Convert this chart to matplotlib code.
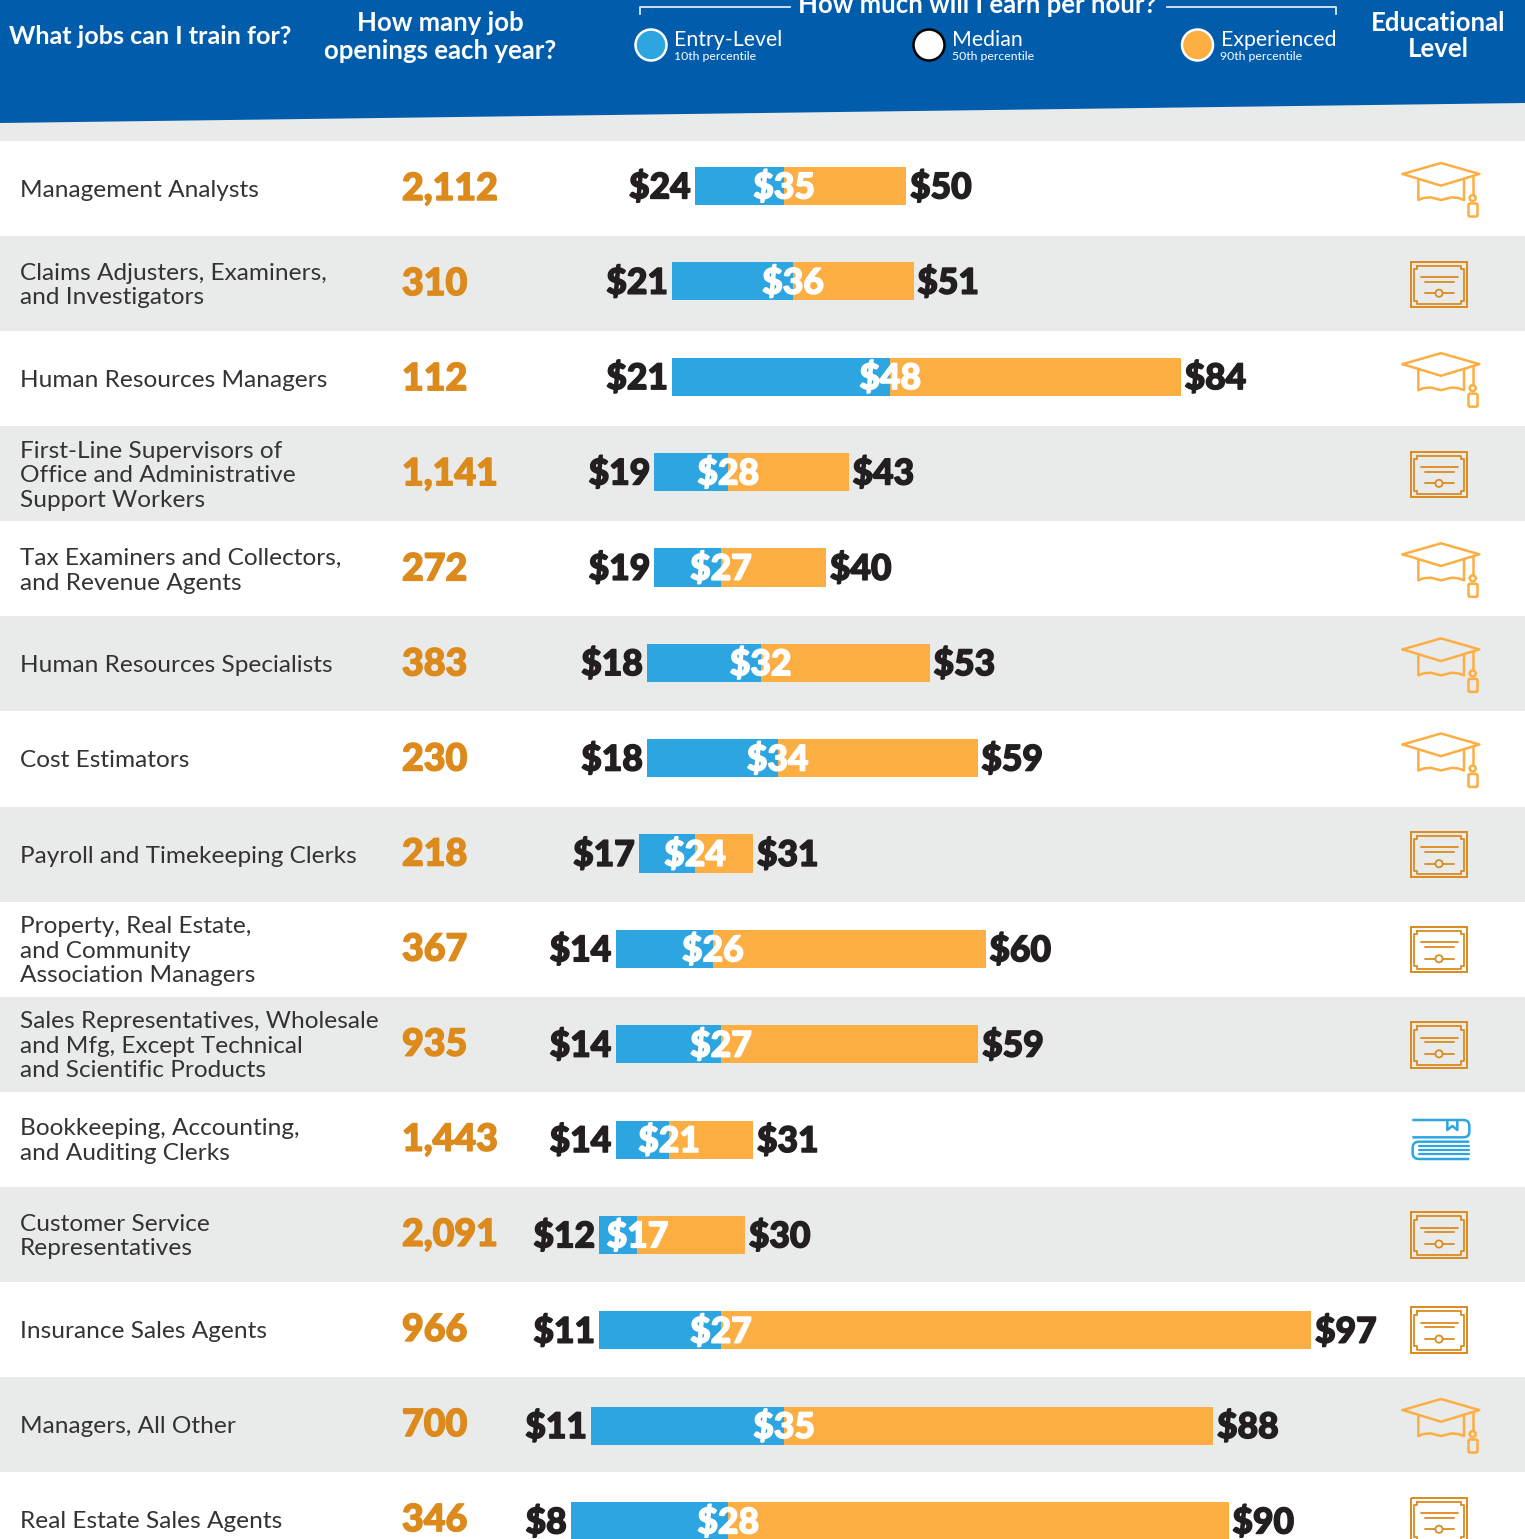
import matplotlib
matplotlib.use("Agg")
import matplotlib.pyplot as plt
import matplotlib.patheffects as pe
from matplotlib.patches import Circle, Polygon, Rectangle, FancyBboxPatch
from matplotlib.path import Path
from matplotlib.patches import PathPatch

W, H = 1525, 1539
ROW_TOP = 141
ROW_H = 95.08
BAR_FIRST = 186
BAR_STEP = 95.36

BLUE_HEAD = "#015DAC"
BLUE = "#2CA5E0"
ORANGE = "#FDAE42"
DARK_ORANGE = "#DC8A1C"
GREY = "#E9EBEA"
FONT = "Lato"

jobs = [
    "Management Analysts",
    "Claims Adjusters, Examiners,\nand Investigators",
    "Human Resources Managers",
    "First-Line Supervisors of\nOffice and Administrative\nSupport Workers",
    "Tax Examiners and Collectors,\nand Revenue Agents",
    "Human Resources Specialists",
    "Cost Estimators",
    "Payroll and Timekeeping Clerks",
    "Property, Real Estate,\nand Community\nAssociation Managers",
    "Sales Representatives, Wholesale\nand Mfg, Except Technical\nand Scientific Products",
    "Bookkeeping, Accounting,\nand Auditing Clerks",
    "Customer Service\nRepresentatives",
    "Insurance Sales Agents",
    "Managers, All Other",
    "Real Estate Sales Agents",
]
openings = ["2,112", "310", "112", "1,141", "272", "383", "230", "218",
            "367", "935", "1,443", "2,091", "966", "700", "346"]

# printed wages
low_labels = [24, 21, 21, 19, 19, 18, 18, 17, 14, 14, 14, 12, 11, 11, 8]
median_labels = [35, 36, 48, 28, 27, 32, 34, 24, 26, 27, 21, 17, 27, 35, 28]
high_labels = [50, 51, 84, 43, 40, 53, 59, 31, 60, 59, 31, 30, 97, 88, 90]

# bar extents, the bars do not always agree with the printed wage
low_wage = [23.7, 20.9, 20.9, 18.7, 18.7, 17.8, 17.8, 16.8, 13.9, 13.9, 13.9, 11.9, 11.9, 10.9, 8.4]
median_wage = [34.7, 35.8, 47.8, 27.8, 26.9, 31.8, 33.9, 23.7, 25.9, 26.9, 20.5, 16.6, 26.9, 34.7, 27.8]
high_wage = [49.8, 50.7, 83.7, 42.7, 39.9, 52.7, 58.6, 30.9, 59.6, 58.7, 30.9, 29.9, 99.8, 87.7, 89.6]

education = ["cap", "cert", "cap", "cert", "cap", "cap", "cap", "cert",
             "cert", "cert", "book", "cert", "cert", "cap", "cert"]

legend_names = ["Entry-Level", "Median", "Experienced"]
legend_subs = ["10th percentile", "50th percentile", "90th percentile"]


def heavy(color, width=1.1):
    return [pe.withStroke(linewidth=width, foreground=color)]


def icon_line(ax, pts, ox, oy, color, lw=2.0):
    ax.plot([ox + p[0] / 3 for p in pts], [oy + p[1] / 3 for p in pts],
            color=color, lw=lw, solid_joinstyle="round", solid_capstyle="round", zorder=5)


def draw_cap(ax, top):
    ox, oy = 1340, top - 141
    c = ORANGE
    icon_line(ax, [(188, 522), (303, 489), (418, 522), (303, 557), (188, 522)], ox, oy, c, 1.8)
    icon_line(ax, [(235, 540), (235, 600), (250, 594), (272, 592), (303, 600), (335, 592),
                   (355, 594), (372, 600), (372, 540)], ox, oy, c, 1.8)
    icon_line(ax, [(398, 530), (398, 585)], ox, oy, c, 1.8)
    ax.add_patch(Circle((ox + 398 / 3, oy + 594 / 3), 3.0, fill=False, ec=c, lw=1.8, zorder=5))
    ax.add_patch(FancyBboxPatch((ox + 390 / 3, oy + 615 / 3), 18 / 3, 30 / 3,
                                boxstyle="round,pad=1.5", fill=False, ec=c, lw=1.8, zorder=5))


def draw_cert(ax, top):
    ox, oy = 1340, top - 236.2
    c = DARK_ORANGE
    ax.add_patch(Rectangle((ox + 213 / 3, oy + 785 / 3), 169 / 3, 136 / 3, fill=False, ec=c, lw=1.4, zorder=5))
    icon_line(ax, [(232, 797), (362, 797), (362, 807), (372, 807), (372, 902), (362, 902), (362, 912),
                   (232, 912), (232, 902), (222, 902), (222, 807), (232, 807), (232, 797)], ox, oy, c, 1.3)
    icon_line(ax, [(242, 831), (354, 831)], ox, oy, c, 1.3)
    icon_line(ax, [(254, 845), (342, 845)], ox, oy, c, 1.3)
    icon_line(ax, [(254, 880), (285, 880)], ox, oy, c, 1.3)
    icon_line(ax, [(309, 880), (343, 880)], ox, oy, c, 1.3)
    ax.add_patch(Circle((ox + 297 / 3, oy + 880 / 3), 3.6, fill=False, ec=c, lw=1.3, zorder=5))


def draw_book(ax, top):
    ox, oy = 1380, top - 1091.8 + 1100
    c = BLUE
    verts = [(97, 60), (250, 60), (268, 60), (268, 78), (268, 95), (268, 112), (250, 112), (97, 112)]
    codes = [Path.MOVETO, Path.LINETO, Path.CURVE3, Path.CURVE3, Path.LINETO, Path.CURVE3, Path.CURVE3, Path.LINETO]
    ax.add_patch(PathPatch(Path([(ox + x / 3, oy + y / 3) for x, y in verts], codes), fill=False, ec=c, lw=1.8, zorder=5))
    icon_line(ax, [(202, 60), (202, 90), (217, 78), (232, 90), (232, 60)], ox, oy, c, 1.8)
    verts = [(268, 125), (118, 125), (98, 125), (98, 143), (98, 160), (98, 177), (118, 177), (268, 177)]
    ax.add_patch(PathPatch(Path([(ox + x / 3, oy + y / 3) for x, y in verts], codes), fill=False, ec=c, lw=1.8, zorder=5))
    for y in [138, 150, 163]:
        icon_line(ax, [(118, y), (268, y)], ox, oy, c, 1.6)


fig = plt.figure(figsize=(W / 100, H / 100), dpi=100, facecolor="white")

# layout axes in image pixels
ax = fig.add_axes([0, 0, 1, 1])
ax.set_xlim(0, W)
ax.set_ylim(H, 0)
ax.axis("off")

ax.add_patch(Rectangle((0, 100), W, ROW_TOP - 100, fc=GREY, ec="none", zorder=0))
ax.add_patch(Polygon([(0, 0), (W, 0), (W, 103), (0, 123)], fc=BLUE_HEAD, ec="none", zorder=1))

ax.text(9, 37, "What jobs can I train for?", color="white", fontsize=18.1, fontweight="bold",
        family=FONT, va="center", ha="left")
ax.text(440, 37, "How many job\nopenings each year?", color="white", fontsize=18.5, fontweight="bold",
        family=FONT, va="center", ha="center", linespacing=1.24)
ax.text(977, 5, "How much will I earn per hour?", color="white", fontsize=18.5, fontweight="bold",
        family=FONT, va="center", ha="center")
ax.text(1438, 36, "Educational\nLevel", color="white", fontsize=18.5, fontweight="bold",
        family=FONT, va="center", ha="center", linespacing=1.12)

ax.plot([640, 640, 790], [14, 7, 7], color="#DCE8F4", lw=1.3, zorder=3)
ax.plot([1167, 1336, 1336], [7, 7, 14], color="#DCE8F4", lw=1.3, zorder=3)

legend_x = [651, 929, 1197.5]
legend_fill = [BLUE, "white", ORANGE]
legend_edge = ["white", "black", "white"]
for i in range(3):
    ax.add_patch(Circle((legend_x[i], 45), 15.5, fc=legend_fill[i], ec=legend_edge[i], lw=1.8, zorder=4))
    ax.text(legend_x[i] + 23.5, 39.5, legend_names[i], color="white", fontsize=15.3, family=FONT,
            va="center", ha="left")
    ax.text(legend_x[i] + 23, 56.5, legend_subs[i], color="white", fontsize=8.8, family=FONT,
            va="center", ha="left")

for i in range(len(jobs)):
    top = ROW_TOP + i * ROW_H
    if i % 2 == 1:
        ax.add_patch(Rectangle((0, top), W, ROW_H, fc=GREY, ec="none", zorder=0))
    ax.text(20, top + 49.5, jobs[i], color="#333333", fontsize=17.6, family=FONT, va="center",
            ha="left", linespacing=1.22)
    ax.text(402, top + 48, openings[i], color=DARK_ORANGE, fontsize=27, fontweight="black", family=FONT,
            va="center", ha="left", path_effects=heavy(DARK_ORANGE))
    if education[i] == "cap":
        draw_cap(ax, top)
    elif education[i] == "cert":
        draw_cert(ax, top)
    else:
        draw_book(ax, top)

# wage axes on top, x in dollars per hour and y in table rows
ax_w = fig.add_axes([0, 0, 1, 1], facecolor="none")
ax_w.set_xlim(-503 / 8.1, (W - 503) / 8.1)
ax_w.set_ylim((H - BAR_FIRST) / BAR_STEP, -BAR_FIRST / BAR_STEP)
ax_w.axis("off")

rows = list(range(len(jobs)))
ax_w.barh(rows, [m - l for m, l in zip(median_wage, low_wage)], left=low_wage, height=0.4, color=BLUE)
ax_w.barh(rows, [h - m for h, m in zip(high_wage, median_wage)], left=median_wage, height=0.4, color=ORANGE)

for i in rows:
    ax_w.text(low_wage[i] - 0.55, i + 0.02, f"${low_labels[i]}", color="#231F20", fontsize=25.5, fontweight="black",
              family=FONT, va="center", ha="right", path_effects=heavy("#231F20"))
    ax_w.text(median_wage[i], i + 0.02, f"${median_labels[i]}", color="white", fontsize=25.5, fontweight="black",
              family=FONT, va="center", ha="center", path_effects=heavy("white"))
    ax_w.text(high_wage[i] + 0.45, i + 0.02, f"${high_labels[i]}", color="#231F20", fontsize=25.5, fontweight="black",
              family=FONT, va="center", ha="left", path_effects=heavy("#231F20"))

fig.savefig("out.png", dpi=100)
